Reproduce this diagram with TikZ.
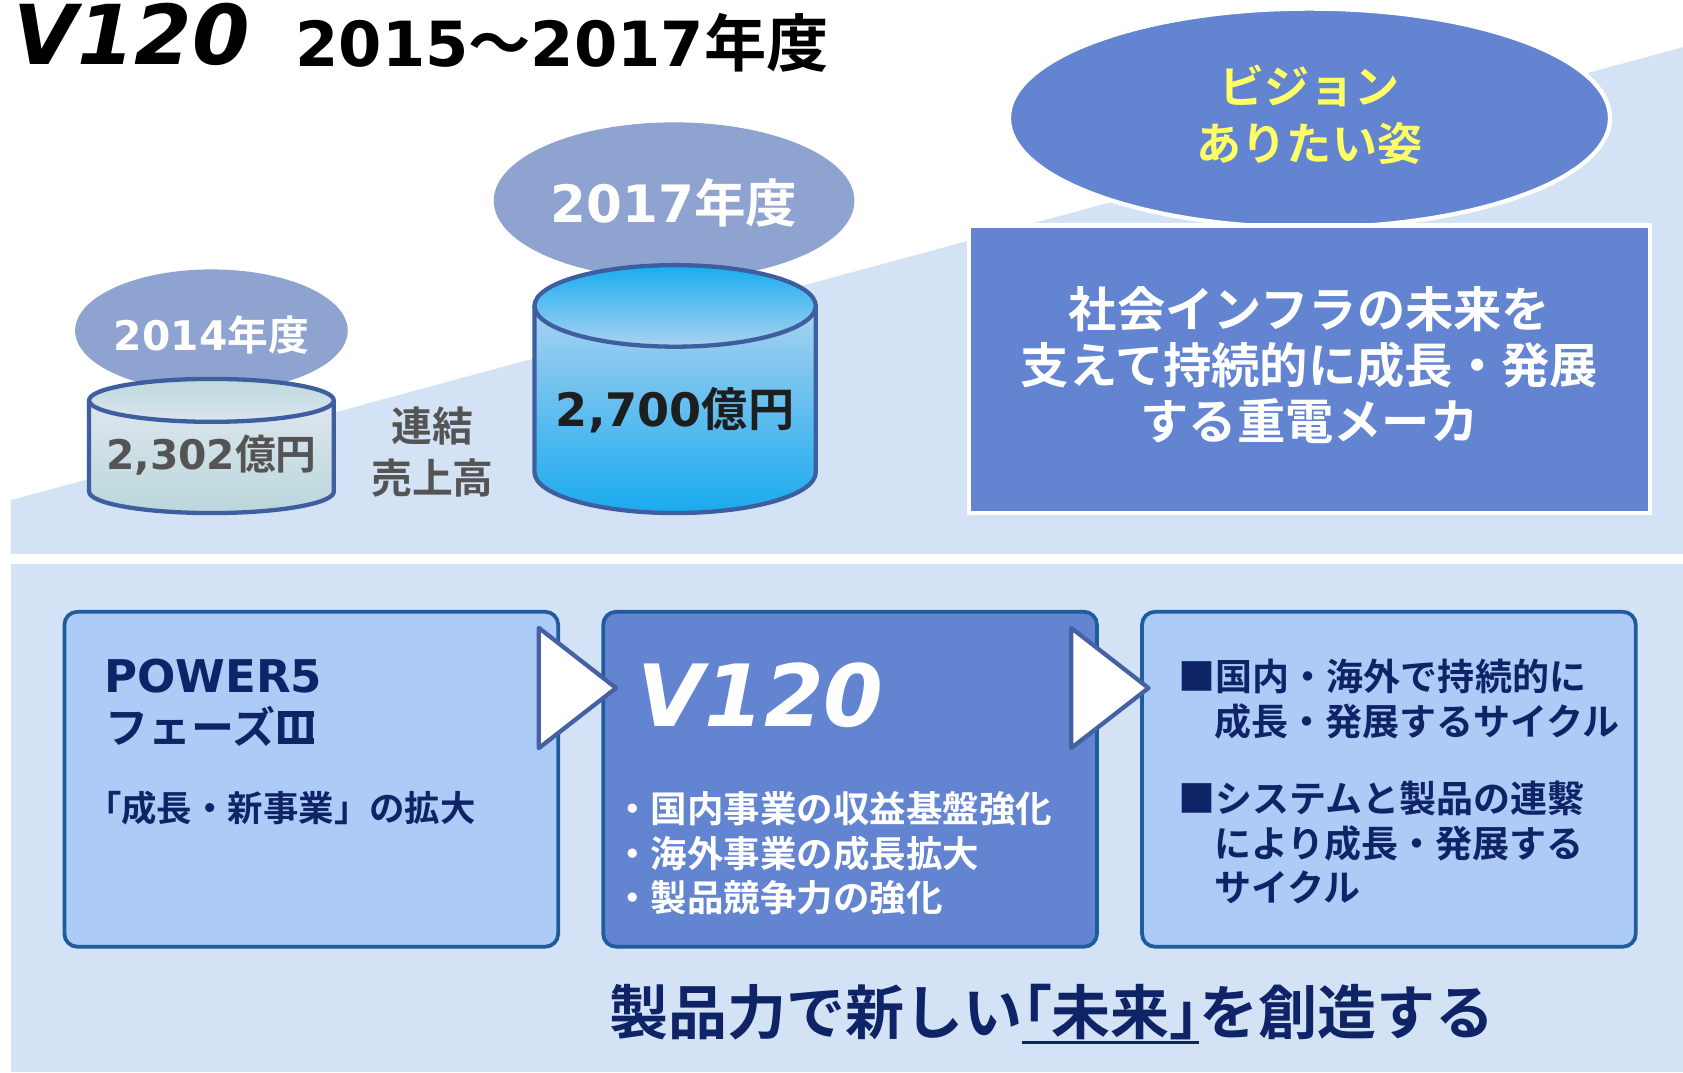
\documentclass[tikz,border=0pt]{standalone}
\usepackage{fontspec}
\setmainfont{DejaVu Sans}
\newfontfamily\jp{Noto Sans CJK JP}[BoldFont={Noto Sans CJK JP Bold}]
\newcommand\J[1]{{\jp #1}}
\newcommand\fs[2]{\fontsize{#1}{#2}\selectfont}
\newcommand\ulbar[1]{\setbox0\hbox{#1}\rlap{\rule[-9pt]{\wd0}{3pt}}\box0}
\newcommand\palt[1]{{\addfontfeature{RawFeature=+palt}#1}}
\newcommand\romIII{\setbox2\hbox{\jp Ⅲ}\rlap{\hskip0.08em\rule{\dimexpr\wd2-0.16em\relax}{0.13em}}\rlap{\hskip0.08em\raise0.63em\hbox{\rule{\dimexpr\wd2-0.16em\relax}{0.13em}}}\box2}
\usetikzlibrary{shapes.geometric}
\definecolor{bgblue}{HTML}{D3E3F5}
\definecolor{yearell}{HTML}{8FA3D0}
\definecolor{vis}{HTML}{6384D1}
\definecolor{boxlight}{HTML}{ADCBF7}
\definecolor{boxb}{HTML}{1F5C9E}
\definecolor{navy}{HTML}{0F2466}
\definecolor{arrb}{HTML}{4461A3}
\definecolor{cylb}{HTML}{3F5E9F}
\definecolor{yel}{HTML}{FFFF66}
\definecolor{graytxt}{HTML}{545454}
\begin{document}
\begin{tikzpicture}[x=1pt,y=-1pt,
  every node/.style={inner sep=0pt, font=\bfseries},
  lbox/.style={draw=boxb, line width=3.5, rounded corners=12, minimum width=460, minimum height=312},
  chev/.style={fill=white, draw=arrb, line width=4, line join=round},
  cylline/.style={draw=cylb, line width=4}]
\useasboundingbox (0,0) rectangle (1568,999);
\fill[white] (0,0) rectangle (1568,999);
% backgrounds
\fill[bgblue] (10,516) -- (10,466) -- (1568,44) -- (1568,516) -- cycle;
\fill[bgblue] (10,525) rectangle (1568,999);
% title
\node[anchor=base west] (title) at (12,60) {\fs{77}{80}\itshape V120};
\node[anchor=base west] (years) at (275,62) {\fs{58}{60}2015\J{〜}2017\J{年度}};
% 2014
\node[ellipse, fill=yearell, minimum width=254, minimum height=114] (e14) at (197,308) {};
\node[anchor=base, text=white] (t14) at (197,327) {\fs{38}{40}2014\J{年度}};
\fill[top color={rgb,255:red,222;green,230;blue,238}, bottom color={rgb,255:red,186;green,215;blue,219}] (83,373) -- (83,458) arc[start angle=180,end angle=0,x radius=114,y radius=20] -- (311,373) -- cycle;
\draw[cylline] (83,373) -- (83,458) arc[start angle=180,end angle=0,x radius=114,y radius=20] -- (311,373);
\filldraw[cylline, top color={rgb,255:red,188;green,217;blue,221}, bottom color={rgb,255:red,220;green,229;blue,238}] (197,373) ellipse[x radius=114, y radius=20];
\node[anchor=base, text=graytxt] (v14) at (197,437) {\fs{38}{40}2,302\J{億円}};
% label
\node[align=center, text=graytxt, font=\bfseries\jp\fs{38}{48}] (lbl) at (403,421) {連結\\売上高};
% 2017
\node[ellipse, fill=yearell, minimum width=336, minimum height=146] (e17) at (628,187) {};
\node[anchor=base, text=white] (t17) at (628,207) {\fs{48}{50}2017\J{年度}};
\fill[top color={rgb,255:red,170;green,210;blue,240}, middle color={rgb,255:red,196;green,221;blue,241}, bottom color={rgb,255:red,26;green,170;blue,238}] (498,285) -- (498,440) arc[start angle=180,end angle=0,x radius=131,y radius=38] -- (760,285) -- cycle;
\draw[cylline] (498,285) -- (498,440) arc[start angle=180,end angle=0,x radius=131,y radius=38] -- (760,285);
\filldraw[cylline, top color={rgb,255:red,24;green,173;blue,240}, bottom color={rgb,255:red,170;green,210;blue,240}] (629,285) ellipse[x radius=131, y radius=38];
\node[anchor=base, text={rgb,255:red,30;green,30;blue,30}] (v17) at (629,397) {\fs{43}{45}2,700\J{億円}};
% vision
\node[ellipse, fill=vis, draw=white, line width=4, minimum width=560, minimum height=204] (vell) at (1220,110) {};
\node[align=center, text=yel, font=\bfseries\jp\fs{42}{53}] (vt) at (1220,107) {ビジョン\\ありたい姿};
\node[draw=white, line width=4, fill=vis, minimum width=634, minimum height=268] (vbox) at (1220,344) {};
\node[align=center, text=white, font=\bfseries\jp\fs{45}{52.5}] (vbt) at (1220,340) {社会インフラの未来を\\支えて持続的に成長・発展\\する重電メーカ};
% lower boxes
\node[lbox, fill=boxlight] (b1) at (290,726) {};
\node[lbox, fill=vis] (b2) at (792,726) {};
\node[lbox, fill=boxlight] (b3) at (1294,726) {};
\filldraw[chev] (502,585) -- (502,697) -- (574,641) -- cycle;
\filldraw[chev] (998,585) -- (998,697) -- (1070,641) -- cycle;
% box1 text
\node[anchor=base west, text=navy] (p5) at (97,645) {\fs{42}{44}POWER5};
\node[anchor=base west, text=navy] (ph) at (98,693) {\fs{40}{42}\J{フェーズ\romIII}};
\node[anchor=west, text=navy] (g1) at (80,753) {\fs{33}{35}\J{「成長・新事業」の拡大}};
% box2 text
\node[anchor=base west, text=white] (v2) at (594,677) {\fs{80}{82}\itshape V120};
\node[anchor=west, text=white] (m1) at (572,753) {\fs{34}{36}\J{・国内事業の収益基盤強化}};
\node[anchor=west, text=white] (m2) at (572,795) {\fs{34}{36}\J{・海外事業の成長拡大}};
\node[anchor=west, text=white] (m3) at (572,836) {\fs{34}{36}\J{・製品競争力の強化}};
% box3 text
\node[anchor=west, text=navy] (r1) at (1098,630) {\fs{34.5}{36}\J{■国内・海外で持続的に}};
\node[anchor=west, text=navy] (r2) at (1131,672) {\fs{34.5}{36}\J{成長・発展するサイクル}};
\node[anchor=west, text=navy] (r3) at (1098,744) {\fs{34.5}{36}\J{■システムと製品の連繫}};
\node[anchor=west, text=navy] (r4) at (1131,786) {\fs{34.5}{36}\J{により成長・発展する}};
\node[anchor=west, text=navy] (r5) at (1131,827) {\fs{34.5}{36}\J{サイクル}};
% bottom slogan
\node[text=navy] (slogan) at (980,945) {\fs{55}{57}\J{製品力で新しい\ulbar{\palt{「}未来\palt{」}}を創造する}};
\end{tikzpicture}
\end{document}
